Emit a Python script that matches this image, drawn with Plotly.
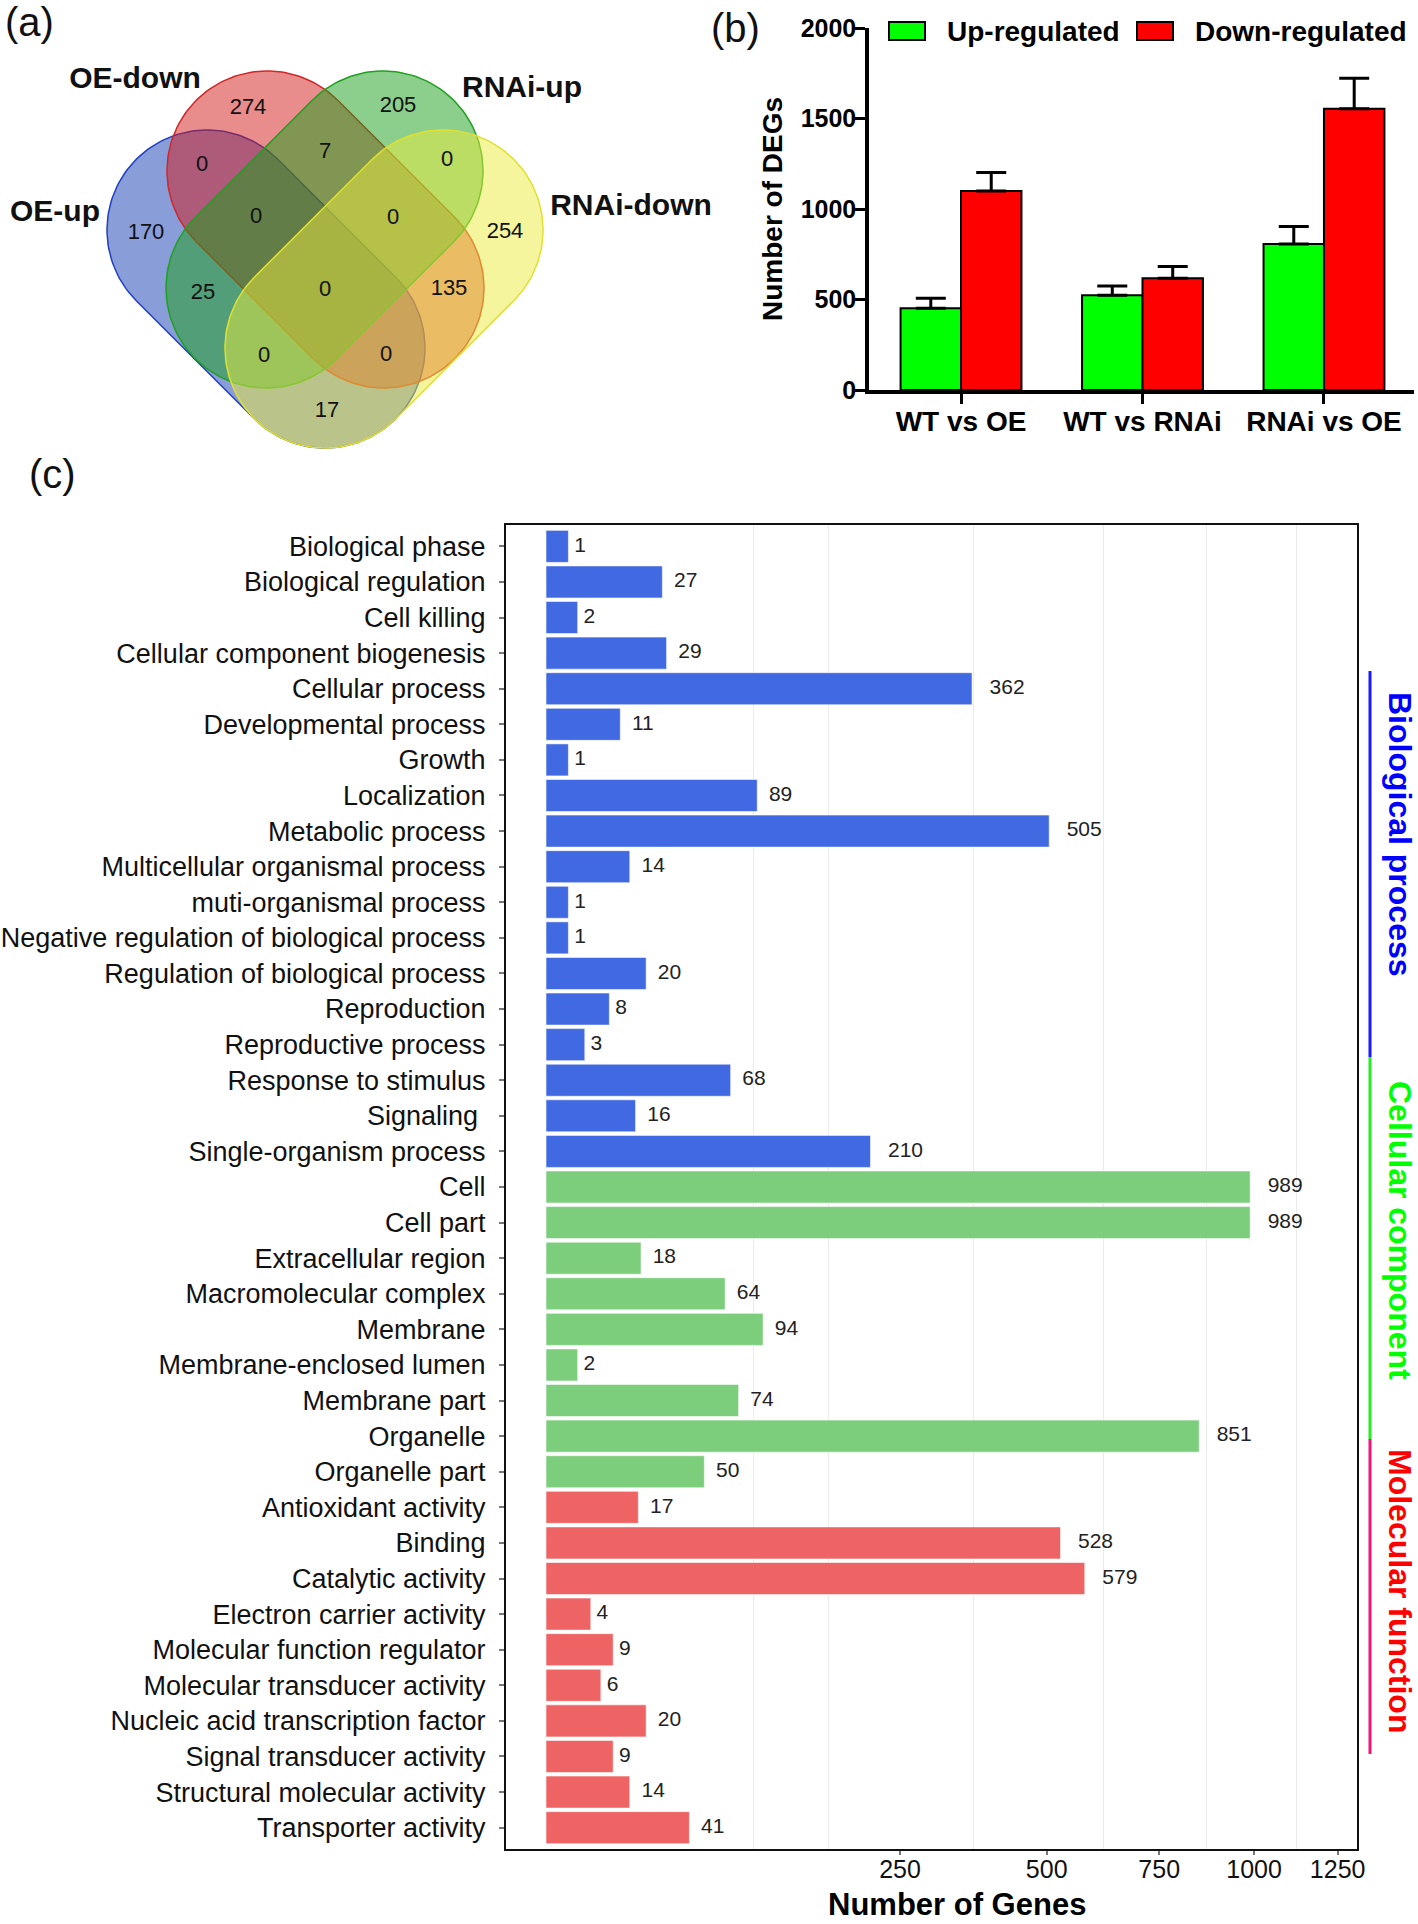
import numpy as np
import plotly.graph_objects as go

W, H = 1418, 1924
FONT = "Liberation Sans, Arial, Helvetica, sans-serif"

# ---------------- (a) Venn data ----------------
venn_sets = ["OE-up", "OE-down", "RNAi-up", "RNAi-down"]
# region counts
venn_region_counts = [274, 205, 0, 7, 0, 170, 0, 0, 254, 25, 0, 135, 0, 0, 17]

# ---------------- (b) DEG counts ----------------
comparisons = ["WT vs OE", "WT vs RNAi", "RNAi vs OE"]
up_regulated = [452, 524, 806]
up_err = [55, 51, 97]
down_regulated = [1100, 618, 1554]
down_err = [102, 64, 168]

# ---------------- (c) GO classification ----------------
bp_terms = ["Biological phase", "Biological regulation", "Cell killing",
            "Cellular component biogenesis", "Cellular process", "Developmental process",
            "Growth", "Localization", "Metabolic process", "Multicellular organismal process",
            "muti-organismal process", "Negative regulation of biological process",
            "Regulation of biological process", "Reproduction", "Reproductive process",
            "Response to stimulus", "Signaling\u00a0", "Single-organism process"]
bp_counts = [1, 27, 2, 29, 362, 11, 1, 89, 505, 14, 1, 1, 20, 8, 3, 68, 16, 210]

cc_terms = ["Cell", "Cell part", "Extracellular region", "Macromolecular complex",
            "Membrane", "Membrane-enclosed lumen", "Membrane part", "Organelle",
            "Organelle part"]
cc_counts = [989, 989, 18, 64, 94, 2, 74, 851, 50]

mf_terms = ["Antioxidant activity", "Binding", "Catalytic activity",
            "Electron carrier activity", "Molecular function regulator",
            "Molecular transducer activity", "Nucleic acid transcription factor",
            "Signal transducer activity", "Structural molecular activity",
            "Transporter activity"]
mf_counts = [17, 528, 579, 4, 9, 6, 20, 9, 14, 41]

x_ticks_c = [250, 500, 750, 1000, 1250]
grid_c = [86, 159, 364, 619, 870, 1122]

# ---------------- layout helpers (styles / positions) ----------------
def px(x):
    return x / W

def py(y):
    return 1 - y / H

fig = go.Figure()

# ---- Venn geometry (pixel units in the venn axes) ----
venn_shapes = [  # (end1, end2, radius)
    ((207, 230), (325, 348), 100),
    ((267, 171), (384, 288), 100),
    ((383, 171), (266, 288), 100),
    ((443, 230), (325, 348), 100),
]
venn_fill = ["rgba(20,60,180,0.5)", "rgba(210,25,25,0.5)",
             "rgba(25,160,25,0.5)", "rgba(235,235,60,0.5)"]
venn_line = ["#2040C0", "#D02828", "#20A020", "#E0E030"]
venn_label_pos = [(55, 213), (135, 80), (522, 89), (631, 207)]
venn_region_pos = [(248, 108), (398, 106), (202, 165), (325, 152), (447, 160),
                   (146, 233), (256, 217), (393, 218), (505, 232),
                   (203, 293), (325, 290), (449, 289),
                   (264, 356), (386, 355), (327, 411)]


def capsule(p1, p2, r, n=80):
    p1 = np.array(p1, float)
    p2 = np.array(p2, float)
    d = (p2 - p1) / np.linalg.norm(p2 - p1)
    nrm = np.array([-d[1], d[0]])
    t0 = np.arctan2(nrm[1], nrm[0])
    a2 = np.linspace(t0, t0 - np.pi, n)
    a1 = np.linspace(t0 - np.pi, t0 - 2 * np.pi, n)
    xs = np.concatenate([p2[0] + r * np.cos(a2), p1[0] + r * np.cos(a1), [p2[0] + r * np.cos(t0)]])
    ys = np.concatenate([p2[1] + r * np.sin(a2), p1[1] + r * np.sin(a1), [p2[1] + r * np.sin(t0)]])
    return xs, ys


for (e1, e2, r), fc, lc in zip(venn_shapes, venn_fill, venn_line):
    xs, ys = capsule(e1, e2, r)
    fig.add_trace(go.Scatter(x=xs, y=ys, mode="lines", fill="toself", fillcolor=fc,
                             line=dict(color=lc, width=1.5), hoverinfo="skip",
                             showlegend=False, xaxis="x3", yaxis="y3", cliponaxis=False))

fig.add_trace(go.Scatter(x=[p[0] for p in venn_region_pos], y=[p[1] for p in venn_region_pos],
                         mode="text", text=[str(v) for v in venn_region_counts],
                         textfont=dict(family=FONT, size=22, color="#111"), cliponaxis=False,
                         showlegend=False, xaxis="x3", yaxis="y3", hoverinfo="skip"))
fig.add_trace(go.Scatter(x=[p[0] for p in venn_label_pos], y=[p[1] for p in venn_label_pos],
                         mode="text", text=venn_sets, cliponaxis=False,
                         textfont=dict(family=FONT, size=30, color="#111", weight="bold"),
                         showlegend=False, xaxis="x3", yaxis="y3", hoverinfo="skip"))

# ---- (b) bars ----
fig.add_trace(go.Bar(x=comparisons, y=up_regulated, name="Up-regulated",
                     marker=dict(color="#00FF00", line=dict(color="black", width=2)),
                     width=0.333, offset=-0.333,
                     error_y=dict(type="data", array=up_err, arrayminus=[0] * 3, symmetric=False,
                                  color="black", thickness=3, width=15),
                     xaxis="x2", yaxis="y2", showlegend=False))
fig.add_trace(go.Bar(x=comparisons, y=down_regulated, name="Down-regulated",
                     marker=dict(color="#FF0000", line=dict(color="black", width=2)),
                     width=0.333, offset=0,
                     error_y=dict(type="data", array=down_err, arrayminus=[0] * 3, symmetric=False,
                                  color="black", thickness=3, width=15),
                     xaxis="x2", yaxis="y2", showlegend=False))

# ---- (c) bars ----
all_terms = bp_terms + cc_terms + mf_terms
groups = [(bp_terms, bp_counts, "#4169E1"), (cc_terms, cc_counts, "#7CCD7C"),
          (mf_terms, mf_counts, "#EE6363")]
for terms, counts, col in groups:
    fig.add_trace(go.Bar(x=np.sqrt(counts), y=terms, orientation="h", width=0.9,
                         marker=dict(color=col, line=dict(color="rgba(255,255,255,0.55)", width=1)),
                         showlegend=False, hoverinfo="skip"))
    fig.add_trace(go.Scatter(x=np.sqrt(counts), y=terms, mode="text",
                             text=["\u00a0" * len(str(v)) + str(v) for v in counts],
                             textposition="middle right",
                             textfont=dict(family=FONT, size=21, color="#222"),
                             showlegend=False, hoverinfo="skip", cliponaxis=False))

fig.update_layout(
    width=W, height=H, margin=dict(l=0, r=0, t=0, b=0, pad=0, autoexpand=False),
    paper_bgcolor="white", plot_bgcolor="white",
    barmode="overlay",
    font=dict(family=FONT, color="#111"),
    xaxis=dict(domain=[px(506), px(1357)], range=[-1.787, 36.22], anchor="y", automargin=False,
               tickvals=np.sqrt(x_ticks_c), ticktext=[str(v) for v in x_ticks_c],
               ticks="outside", ticklen=4, tickcolor="#777", tickwidth=1.5,
               tickfont=dict(size=25, color="#111"), ticklabelstandoff=-7,
               showline=True, mirror=True, linecolor="#111", linewidth=2,
               showgrid=False, zeroline=False,
               minor=dict(tickvals=np.sqrt(grid_c), showgrid=True, gridcolor="#EBEBEB",
                          gridwidth=1, ticks="")),
    yaxis=dict(domain=[py(1849), py(525)], type="category", categoryorder="array",
               categoryarray=all_terms, range=[len(all_terms) - 0.4, -0.6], anchor="x",
               automargin=False,
               ticks="outside", ticklen=5, tickcolor="#777", tickwidth=1.5,
               tickfont=dict(size=27, color="#111"), ticklabelstandoff=8,
               showline=True, mirror=True, linecolor="#111", linewidth=2,
               showgrid=False, zeroline=False),
    xaxis2=dict(domain=[px(869), px(1414)], range=[-0.507, 2.496], anchor="y2", automargin=False,
                type="category", categoryorder="array", categoryarray=comparisons,
                ticks="outside", ticklen=10, tickwidth=3, tickcolor="black",
                tickfont=dict(size=28, color="black", weight="bold"), ticklabelstandoff=-6,
                showline=True, linecolor="black", linewidth=3.5, showgrid=False, zeroline=False),
    yaxis2=dict(domain=[py(390), py(28)], range=[0, 2000], anchor="x2", automargin=False,
                tickvals=[0, 500, 1000, 1500, 2000],
                ticks="outside", ticklen=10, tickwidth=3, tickcolor="black",
                tickfont=dict(size=25, color="black", weight="bold"), ticklabelstandoff=-6,
                showline=True, linecolor="black", linewidth=3.5, showgrid=False, zeroline=False),
    xaxis3=dict(domain=[0, px(700)], range=[0, 700], visible=False, anchor="y3", automargin=False),
    yaxis3=dict(domain=[py(460), 1], range=[460, 0], visible=False, anchor="x3", automargin=False),
)

ann = []
# panel letters
for txt, x, y in [("(a)", 29, 22), ("(b)", 735, 28), ("(c)", 53, 474)]:
    ann.append(dict(text=txt, x=px(x), y=py(y), xref="paper", yref="paper", showarrow=False,
                    font=dict(size=40, color="#111"), xanchor="center", yanchor="middle"))
# (b) y title
ann.append(dict(text="Number of DEGs", x=px(773), y=py(209), xref="paper", yref="paper",
                showarrow=False, textangle=-90, font=dict(size=28, color="black", weight="bold"),
                xanchor="center", yanchor="middle"))
# (b) legend text
ann.append(dict(text="Up-regulated", x=px(945), y=py(31), xref="paper", yref="paper",
                showarrow=False, font=dict(size=28, color="black", weight="bold"),
                xanchor="left", yanchor="middle"))
ann.append(dict(text="Down-regulated", x=px(1193), y=py(31), xref="paper", yref="paper",
                showarrow=False, font=dict(size=28, color="black", weight="bold"),
                xanchor="left", yanchor="middle"))
# (c) x title
ann.append(dict(text="Number of Genes", x=px(957), y=py(1904), xref="paper", yref="paper",
                showarrow=False, font=dict(size=31, color="black", weight="bold"),
                xanchor="center", yanchor="middle"))
# (c) group labels
for txt, yc, col in [("Biological process", 834, "#0000FF"),
                     ("Cellular component", 1230, "#00FF00"),
                     ("Molecular function", 1591, "#FF0000")]:
    ann.append(dict(text=txt, x=px(1400), y=py(yc), xref="paper", yref="paper", showarrow=False,
                    textangle=90, font=dict(size=32, color=col, weight="bold"),
                    xanchor="center", yanchor="middle"))
fig.update_layout(annotations=ann)

shapes = []
# legend swatches (b)
for x0, col in [(889, "#00FF00"), (1137, "#FF0000")]:
    shapes.append(dict(type="rect", xref="paper", yref="paper", x0=px(x0), x1=px(x0 + 36),
                       y0=py(40), y1=py(22), fillcolor=col, line=dict(color="black", width=2)))
# group bracket lines (c)
for y0, y1, col in [(671, 1057, "#1A1AFF"), (1057, 1439, "#22EE22"), (1439, 1754, "#F0147A")]:
    shapes.append(dict(type="line", xref="paper", yref="paper", x0=px(1370), x1=px(1370),
                       y0=py(y0), y1=py(y1), line=dict(color=col, width=3)))
fig.update_layout(shapes=shapes)

fig.write_html("out.html", config={"displayModeBar": False},
               post_script="document.body.style.margin='0';document.body.style.overflow='hidden';")
